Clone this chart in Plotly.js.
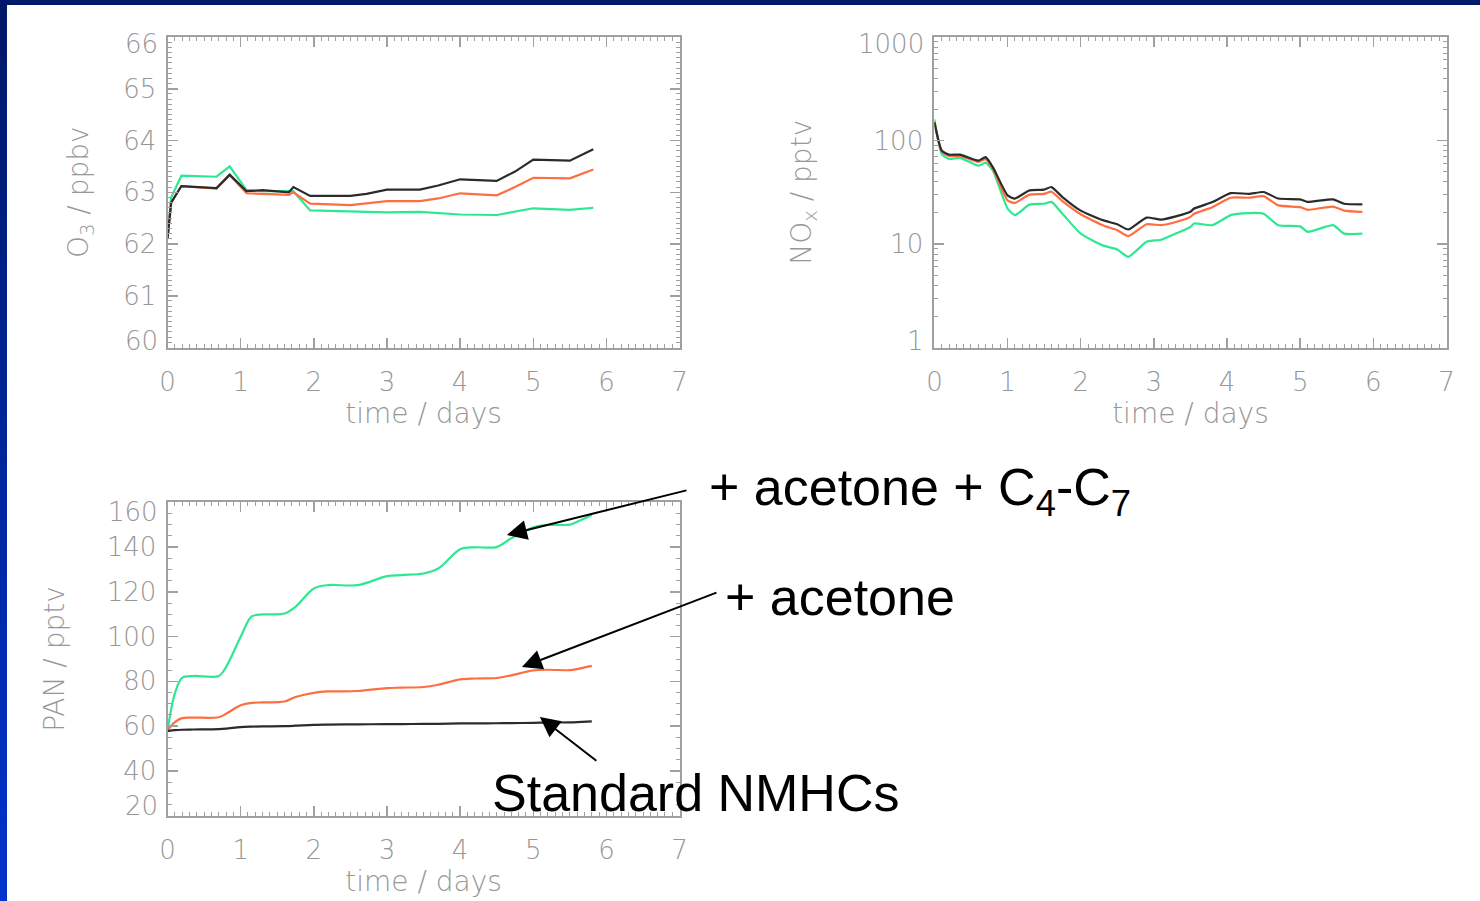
<!DOCTYPE html>
<html>
<head>
<meta charset="utf-8">
<script src="https://cdn.plot.ly/plotly-3.0.1.min.js"></script>
<style>
  html, body { margin: 0; padding: 0; background: #ffffff; }
  #chart { width: 1480px; height: 901px; }
</style>
</head>
<body>
<div id="chart"></div>
<script>
// ---- O3 (ppbv) ----
const o3Time     = [0, 0.05, 0.19, 0.45, 0.67, 0.85, 1.08, 1.3, 1.66, 1.72, 1.95, 2.5, 2.72, 3.0, 3.45, 3.7, 4.0, 4.5, 4.75, 5.0, 5.5, 5.82];
const o3Standard = [62.1, 62.8, 63.12, 63.1, 63.08, 63.34, 63.02, 63.04, 63.0, 63.1, 62.93, 62.93, 62.97, 63.05, 63.05, 63.13, 63.25, 63.22, 63.4, 63.63, 63.61, 63.83];
const o3Acetone  = [62.1, 62.8, 63.12, 63.1, 63.07, 63.33, 62.98, 62.97, 62.95, 63.0, 62.78, 62.75, 62.78, 62.83, 62.83, 62.88, 62.98, 62.94, 63.1, 63.28, 63.27, 63.44];
const o3AcetoneC4C7 = [62.1, 62.9, 63.32, 63.31, 63.3, 63.5, 63.04, 63.02, 63.01, 63.02, 62.65, 62.63, 62.63, 62.61, 62.62, 62.6, 62.57, 62.56, 62.62, 62.69, 62.66, 62.7];
const o3Ticks = [60, 61, 62, 63, 64, 65, 66];

// ---- NOx (pptv) ----
const noxTime     = [0, 0.1, 0.2, 0.35, 0.6, 0.7, 0.8, 1.0, 1.1, 1.3, 1.5, 1.6, 1.75, 2.0, 2.3, 2.5, 2.65, 2.9, 3.1, 3.3, 3.5, 3.55, 3.8, 4.05, 4.3, 4.5, 4.7, 5.0, 5.1, 5.45, 5.6, 5.85];
const noxStandard = [150, 80, 73, 73, 64, 69, 55, 29.5, 27.5, 33, 33.5, 35.5, 28.4, 21, 17, 15.5, 13.8, 18, 17.2, 18.5, 20.5, 22, 25.4, 31, 30.5, 31.8, 27.5, 27, 25.5, 27, 24.5, 24.2];
const noxAcetone  = [150, 78, 71, 71, 62, 66, 53, 26.4, 24.9, 30, 30.5, 32, 26, 19.4, 15.2, 13.6, 11.9, 15.5, 15.2, 16.3, 18.3, 19.6, 22.7, 28, 28, 29, 23.6, 22.7, 21.4, 23, 21, 20.4];
const noxAcetoneC4C7 = [160, 74, 66.5, 68, 57, 61, 51, 22, 19, 24, 24.5, 25.5, 19.6, 12.6, 9.7, 8.85, 7.5, 10.5, 11, 12.6, 14.6, 15.8, 15.2, 19, 19.9, 19.6, 15.2, 14.8, 13.1, 15.2, 12.6, 12.6];
const noxTicks = [1, 10, 100, 1000];

// ---- PAN (pptv) ----
const panTime     = [0, 0.1, 0.2, 0.35, 0.7, 0.8, 1.0, 1.15, 1.3, 1.6, 1.75, 2.0, 2.2, 2.6, 3.0, 3.2, 3.5, 3.7, 4.0, 4.2, 4.5, 4.7, 5.0, 5.2, 5.5, 5.6, 5.8];
const panStandard = [57.8, 58.2, 58.4, 58.5, 58.7, 58.9, 59.6, 59.8, 59.9, 60, 60.2, 60.6, 60.7, 60.8, 60.9, 60.95, 61, 61.05, 61.2, 61.25, 61.3, 61.35, 61.5, 61.6, 61.7, 61.8, 62.1];
const panAcetone  = [58, 61.8, 63.6, 63.8, 64, 65.5, 69.3, 70.4, 70.6, 71, 73, 74.9, 75.5, 75.7, 77, 77.2, 77.5, 78.5, 80.9, 81.3, 81.5, 82.7, 84.9, 85.2, 85, 85.5, 86.9];
const panAcetoneC4C7 = [58, 74.5, 81.6, 82.4, 82.4, 86.4, 99.9, 109, 109.9, 110.3, 113.3, 121.5, 123, 123, 127, 127.5, 128.2, 130.4, 139, 139.9, 140, 143.9, 148.8, 149.9, 150, 151.3, 154.3];
const panTicks = [20, 40, 60, 80, 100, 120, 140, 160];

// ---- labels ----
const labelC4C7     = '+ acetone + C<sub>4</sub>-C<sub>7</sub>';
const labelAcetone  = '+ acetone';
const labelStandard = 'Standard NMHCs';

const W = 1480, H = 901;
const px = v => v / W;          // page pixel -> paper x
const py = v => 1 - v / H;      // page pixel -> paper y

const COL_STD = '#2b2b2b';
const COL_ACE = '#ff6e40';
const COL_C47 = '#2ee891';
const GREY = '#a0a0a0';
const TEXT_GREY = '#979797';
const TICK_FONT = {family: 'DejaVu Sans', size: 26, color: TEXT_GREY, weight: 300};
const TITLE_FONT = {family: 'DejaVu Sans', size: 28, color: TEXT_GREY, weight: 300};

function line(x, y, color, xa, ya, smoothing) {
  return {x: x, y: y, xaxis: xa, yaxis: ya, type: 'scatter', mode: 'lines',
          line: {color: color, width: 2.2, shape: smoothing ? 'spline' : 'linear',
                 smoothing: smoothing || 0},
          showlegend: false, hoverinfo: 'skip'};
}

const traces = [
  line(o3Time, o3AcetoneC4C7, COL_C47, 'x', 'y'),
  line(o3Time, o3Acetone, COL_ACE, 'x', 'y'),
  line(o3Time, o3Standard, COL_STD, 'x', 'y'),
  line(noxTime, noxAcetoneC4C7, COL_C47, 'x2', 'y2', 0.5),
  line(noxTime, noxAcetone, COL_ACE, 'x2', 'y2', 0.5),
  line(noxTime, noxStandard, COL_STD, 'x2', 'y2', 0.5),
  line(panTime, panAcetoneC4C7, COL_C47, 'x3', 'y3', 0.9),
  line(panTime, panAcetone, COL_ACE, 'x3', 'y3', 0.9),
  line(panTime, panStandard, COL_STD, 'x3', 'y3', 0.9)
];

function minorTicks(dtick) {
  return {ticks: 'inside', ticklen: 4, tickcolor: GREY, tickwidth: 1, dtick: dtick, showgrid: false};
}

function frame(extra) {
  return Object.assign({
    showline: true, linecolor: GREY, linewidth: 2, mirror: 'allticks',
    ticks: 'inside', ticklen: 10, tickwidth: 1.5, tickcolor: GREY,
    showgrid: false, zeroline: false, fixedrange: true,
    tickfont: TICK_FONT, ticklabelstandoff: 4
  }, extra);
}

function timeAxis(domain, anchor) {
  return frame({
    domain: domain, anchor: anchor, range: [0, 7], dtick: 1, tick0: 0,
    ticklabelstandoff: 10, minor: minorTicks(0.1),
    title: {text: 'time / days', standoff: 5, font: TITLE_FONT}
  });
}

// value axes: the inner tick values carry the axis labels, the two end labels
// are set just inside the frame (see endLabels below)
function inner(ticks) { return ticks.slice(1, -1); }

const dTop = [py(347.5), py(37)];
const dBot = [py(815.7), py(502.3)];
const dLeft = [px(167.5), px(679.6)];
const dRight = [px(934.4), px(1446.5)];

const layout = {
  width: W, height: H,
  margin: {l: 0, r: 0, t: 0, b: 0},
  paper_bgcolor: '#ffffff', plot_bgcolor: '#ffffff',
  xaxis: timeAxis(dLeft, 'y'),
  xaxis2: timeAxis(dRight, 'y2'),
  xaxis3: timeAxis(dLeft, 'y3'),
  yaxis: frame({
    domain: dTop, anchor: 'x', range: [o3Ticks[0], o3Ticks[o3Ticks.length - 1]],
    tickvals: inner(o3Ticks), ticktext: inner(o3Ticks).map(String), minor: minorTicks(0.1),
    title: {text: 'O<sub>3</sub> / ppbv', standoff: 26, font: TITLE_FONT}
  }),
  yaxis2: frame({
    domain: dTop, anchor: 'x2', type: 'log',
    range: [Math.log10(noxTicks[0]), Math.log10(noxTicks[noxTicks.length - 1])],
    tickvals: inner(noxTicks), ticktext: inner(noxTicks).map(String), minor: minorTicks('D1'),
    title: {text: 'NO<sub>x</sub> / pptv', standoff: 54, font: TITLE_FONT}
  }),
  yaxis3: frame({
    domain: dBot, anchor: 'x3', range: [panTicks[0], panTicks[panTicks.length - 1]],
    tickvals: inner(panTicks), ticktext: inner(panTicks).map(String), minor: minorTicks(5),
    title: {text: 'PAN / pptv', standoff: 34, font: TITLE_FONT}
  }),
  annotations: [],
  shapes: []
};

// end labels of the value axes, nudged inside the frame
// (annotation y on a log axis is given as log10 of the value)
function endLabels(ticks, xref, yref, nudge, isLog) {
  const lo = ticks[0], hi = ticks[ticks.length - 1];
  return [[lo, nudge], [hi, -nudge]].map(([v, s]) => ({
    xref: xref + ' domain', yref: yref, x: 0, y: isLog ? Math.log10(v) : v,
    xanchor: 'right', yanchor: 'middle',
    xshift: -8, yshift: s, text: String(v), showarrow: false, font: TICK_FONT
  }));
}
layout.annotations.push(
  ...endLabels(o3Ticks, 'x', 'y', 7, false),
  ...endLabels(noxTicks, 'x2', 'y2', 7, true),
  ...endLabels(panTicks, 'x3', 'y3', 10, false)
);

// scenario labels
const labelFont = {family: 'Liberation Sans', size: 52, color: '#000000'};
layout.annotations.push(
  {xref: 'paper', yref: 'paper', x: px(707), y: py(491), xanchor: 'left', yanchor: 'middle',
   text: labelC4C7, showarrow: false, font: labelFont},
  {xref: 'paper', yref: 'paper', x: px(723), y: py(597), xanchor: 'left', yanchor: 'middle',
   text: labelAcetone, showarrow: false, font: labelFont},
  {xref: 'paper', yref: 'paper', x: px(490), y: py(793), xanchor: 'left', yanchor: 'middle',
   text: labelStandard, showarrow: false, font: labelFont}
);

// pointer arrows onto the PAN curves: head at a data point, tail offset in screen pixels
function pointer(t, v, dx, dy) {
  return {xref: 'x3', yref: 'y3', x: t, y: v, axref: 'pixel', ayref: 'pixel', ax: dx, ay: dy,
          text: '', showarrow: true, arrowhead: 2, arrowsize: 2, arrowwidth: 2,
          arrowcolor: '#000000', standoff: 0};
}
layout.annotations.push(
  pointer(4.64, 145.4, 181, -45),
  pointer(4.845, 86.4, 196, -75),
  pointer(5.09, 64.1, 58, 45)
);

// slide frame: navy top strip, blue gradient strip on the left
layout.shapes.push({type: 'rect', xref: 'paper', yref: 'paper', x0: 0, x1: 1, y0: py(5), y1: 1,
                    fillcolor: '#001a68', line: {width: 0}, layer: 'above'});
const bands = 45;
for (let i = 0; i < bands; i++) {
  const f = i / (bands - 1);
  const g = Math.round(24 + (51 - 24) * f);
  const b = Math.round(104 + (204 - 104) * f);
  const top = H * i / bands, bottom = Math.min(H, H * (i + 1) / bands + 2);
  layout.shapes.push({type: 'rect', xref: 'paper', yref: 'paper',
    x0: 0, x1: px(7), y0: py(bottom), y1: py(top),
    fillcolor: 'rgb(0,' + g + ',' + b + ')', line: {width: 0}, layer: 'above'});
}

Plotly.newPlot('chart', traces, layout, {staticPlot: true, displayModeBar: false});
</script>
</body>
</html>
